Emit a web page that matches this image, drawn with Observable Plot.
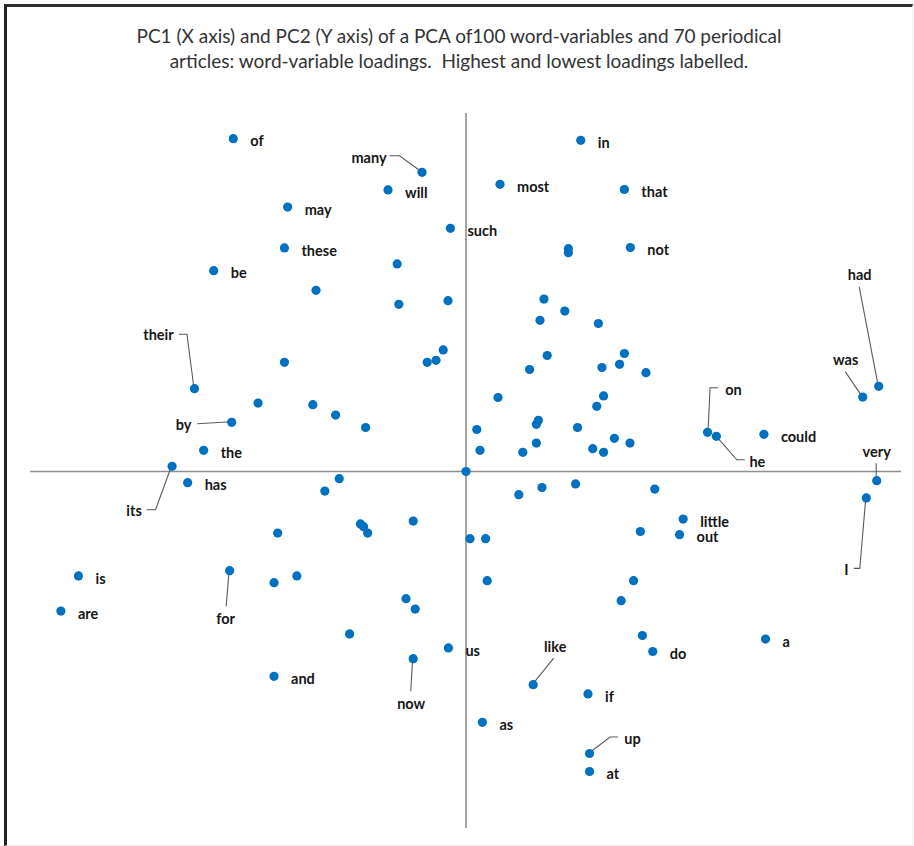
<!DOCTYPE html>
<html>
<head>
<meta charset="utf-8">
<script src="https://cdn.jsdelivr.net/npm/d3@7"></script>
<script src="https://cdn.jsdelivr.net/npm/@observablehq/plot@0.6"></script>
<style>
  html, body { margin: 0; padding: 0; background: #fff; }
  #page { position: relative; width: 914px; height: 846px; overflow: hidden; background: #fff; }
  #frame { position: absolute; left: 4px; top: 4px; width: 905px; height: 838px;
           border-left: 3px solid #222; border-top: 3px solid #2a2a2a;
           border-right: 1px solid #eeeeee; border-bottom: 1px solid #f0f0f0;
           pointer-events: none; z-index: 5; }
  #title { position: absolute; left: 0; top: 23px; width: 918px; text-align: center;
           font-family: Lato, "Open Sans", sans-serif; font-size: 19px; line-height: 25px;
           color: #333; white-space: pre; }
  #chart { position: absolute; left: 0; top: 100px; }
  #chart svg { background: none !important; }
</style>
</head>
<body>
<div id="page">
  <div id="title">PC1 (X axis) and PC2 (Y axis) of a PCA of100 word-variables and 70 periodical
articles: word-variable loadings.  Highest and lowest loadings labelled.</div>
  <div id="chart"></div>
  <div id="frame"></div>
</div>
<script>
// ---- Data: word-variable loadings (PC1, PC2) ----
const labelledWords = ["of","many","will","may","these","be","such","their","by","the","its","has",
  "in","most","that","not","had","was","on","he","could","very","I","little","out",
  "is","are","for","and","now","us","like","if","as","up","at","do","a"];
const labelledPC1 = [-0.582,-0.110,-0.195,-0.446,-0.454,-0.631,-0.039,-0.679,-0.586,-0.656,-0.735,-0.696,
  0.287,0.085,0.396,0.411,1.032,0.992,0.604,0.626,0.745,1.027,1.001,0.543,0.534,
  -0.969,-1.013,-0.591,-0.480,-0.132,-0.044,0.168,0.305,0.041,0.309,0.309,0.467,0.749];
const labelledPC2 = [0.832,0.748,0.704,0.661,0.559,0.502,0.608,0.207,0.123,0.053,0.013,-0.028,
  0.828,0.718,0.705,0.560,0.213,0.186,0.098,0.088,0.093,-0.023,-0.066,-0.119,-0.158,
  -0.261,-0.349,-0.248,-0.512,-0.468,-0.441,-0.533,-0.556,-0.627,-0.705,-0.750,-0.450,-0.419];

const otherPC1 = [-0.172,-0.375,-0.168,-0.045,-0.454,-0.057,-0.075,-0.097,-0.520,-0.383,-0.326,-0.251,
  0.000,
  0.256,0.256,0.195,0.247,0.185,0.331,0.203,0.396,0.384,0.340,0.159,0.450,0.080,0.344,0.327,
  0.027,0.181,0.176,0.279,0.035,0.142,0.176,0.317,0.344,0.371,0.410,
  -0.317,-0.353,-0.471,-0.264,-0.256,-0.246,-0.132,-0.480,-0.423,-0.150,-0.127,-0.291,
  0.132,0.190,0.274,0.472,0.436,0.010,0.049,0.053,0.419,0.388,0.441];
const otherPC2 = [0.519,0.453,0.418,0.427,0.273,0.304,0.278,0.273,0.171,0.167,0.141,0.110,
  0.000,
  0.557,0.547,0.431,0.401,0.378,0.370,0.290,0.295,0.268,0.260,0.255,0.247,0.185,0.189,0.163,
  0.105,0.128,0.118,0.110,0.053,0.048,0.071,0.057,0.048,0.083,0.071,
  -0.018,-0.049,-0.154,-0.131,-0.138,-0.154,-0.124,-0.278,-0.261,-0.318,-0.344,-0.406,
  -0.058,-0.040,-0.031,-0.044,-0.150,-0.168,-0.168,-0.273,-0.273,-0.323,-0.410];

// ---- Layout of labels drawn away from their dots (pixel offsets) ----
const leaderLayout = [
  {word:"many",  label:[-53,-14], path:[[-32,-16],[-22,-16],[0,0]]},
  {word:"their", label:[-36,-53], path:[[-15,-54],[-7,-54],[0,0]]},
  {word:"by",    label:[-48,3],   path:[[-34,2],[0,0]]},
  {word:"its",   label:[-38,45],  path:[[-25,44],[-16,44],[0,0]]},
  {word:"for",   label:[-4,49],   path:[[-3,36],[0,0]]},
  {word:"now",   label:[-2,46],   path:[[-2,33],[0,0]]},
  {word:"like",  label:[22,-37],  path:[[21,-26],[0,0]]},
  {word:"up",    label:[43,-14],  path:[[29,-16],[21,-16],[0,0]]},
  {word:"had",   label:[-19,-111],path:[[-19,-99],[0,0]]},
  {word:"was",   label:[-17,-37], path:[[-17,-25],[0,0]]},
  {word:"on",    label:[26,-42],  path:[[11,-44],[3,-44],[1,0]]},
  {word:"he",    label:[41,26],   path:[[0,0],[21,24],[29,24]]},
  {word:"very",  label:[0,-28],   path:[[0,-17],[0,0]]},
  {word:"I",     label:[-20,72],  path:[[0,0],[-6,71],[-12,71]]}
];

const labelled = labelledWords.map((w, i) => ({word: w, pc1: labelledPC1[i], pc2: labelledPC2[i]}));
const others = otherPC1.map((v, i) => ({pc1: v, pc2: otherPC2[i]}));
const all = others.concat(labelled);
const leaderWords = new Set(leaderLayout.map(d => d.word));
const plainLabels = labelled.filter(d => !leaderWords.has(d.word));
const byWord = new Map(labelled.map(d => [d.word, d]));

const labelStyle = {fill: "#161616", fontSize: 14.5, fontWeight: 700, fontFamily: "Lato, 'Open Sans', sans-serif"};

const leaderMark = (index, scales) => {
  const g = d3.create("svg:g").attr("fill", "none").attr("stroke", "#5a5a5a").attr("stroke-width", 1.1);
  for (const L of leaderLayout) {
    const d = byWord.get(L.word);
    const cx = scales.x(d.pc1), cy = scales.y(d.pc2);
    g.append("path").attr("d", d3.line()(L.path.map(([dx, dy]) => [cx + dx, cy + dy])));
  }
  return g.node();
};

const marks = [
  Plot.ruleY([0], {stroke: "#8f8f8f", strokeWidth: 1.6}),
  Plot.ruleX([0], {stroke: "#8f8f8f", strokeWidth: 1.6}),
  leaderMark,
  Plot.dot(all, {x: "pc1", y: "pc2", r: 4.6, fill: "#0070c0", stroke: "none"}),
  Plot.text(plainLabels, {x: "pc1", y: "pc2", text: "word", dx: 17, dy: 3, textAnchor: "start", ...labelStyle})
];
for (const L of leaderLayout) {
  marks.push(Plot.text([byWord.get(L.word)], {x: "pc1", y: "pc2", text: "word",
    dx: L.label[0], dy: L.label[1], textAnchor: "middle", ...labelStyle}));
}

const chart = Plot.plot({
  width: 914,
  height: 746,
  marginLeft: 30,
  marginRight: 13,
  marginTop: 13,
  marginBottom: 18,
  x: {domain: [-1.089, 1.089], axis: null},
  y: {domain: [-0.8925, 0.895], axis: null},
  style: {background: "none", fontFamily: "Lato, 'Open Sans', sans-serif"},
  marks
});
document.getElementById("chart").appendChild(chart);
</script>
</body>
</html>
